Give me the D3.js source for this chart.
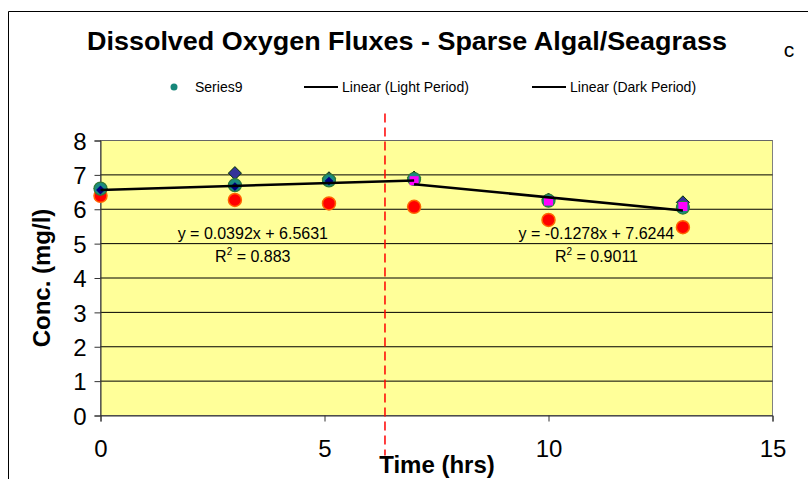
<!DOCTYPE html>
<html>
<head>
<meta charset="utf-8">
<script src="https://cdn.jsdelivr.net/npm/d3@7"></script>
<style>
  body { margin: 0; background: #fff; }
  text { font-family: "Liberation Sans", Arial, sans-serif; }
</style>
</head>
<body>
<div id="chart"></div>
<script>
// DO flux chart - sparse algal/seagrass
var times = [0, 3, 5.1, 7, 10, 13];
var bigDiamond = [6.6, 7.05, 6.9, 6.92, 6.28, 6.2];
var series9 = [6.6, 6.7, 6.84, 6.88, 6.25, 6.05];
var redDots = [6.39, 6.27, 6.17, 6.07, 5.69, 5.48];
var lightTimes = [0, 3, 5.1];
var lightPts = [6.56, 6.66, 6.82];
var darkTimes = [7, 10, 13];
var darkPts = [6.83, 6.24, 6.08];
var lightFit = {a: 0.0392, b: 6.5631, r2: "0.883", x0: 0, x1: 7};
var darkFit = {a: -0.1278, b: 7.6244, r2: "0.9011", x0: 7, x1: 13};
var xTicks = [0, 5, 10, 15];
var yTicks = [0, 1, 2, 3, 4, 5, 6, 7, 8];
var splitTime = 6.35;

var W = 808, H = 479;
var margin = {top: 140.5, right: 35.5, bottom: 63.5, left: 100.5},
    width = W - margin.left - margin.right,
    height = H - margin.top - margin.bottom;

var svg = d3.select("#chart").append("svg")
    .attr("width", W)
    .attr("height", H);

// outer chart frame
svg.append("path")
    .attr("d", "M8.5," + H + "V11.5H" + W)
    .attr("fill", "none")
    .attr("stroke", "#000");

svg.append("text")
    .attr("x", 407).attr("y", 50)
    .attr("text-anchor", "middle")
    .attr("textLength", 640).attr("lengthAdjust", "spacingAndGlyphs")
    .style("font-size", "26px").style("font-weight", "bold")
    .text("Dissolved Oxygen Fluxes - Sparse Algal/Seagrass");

svg.append("text")
    .attr("x", 789).attr("y", 57)
    .attr("text-anchor", "middle")
    .style("font-size", "21px")
    .text("c");

// legend
var leg = svg.append("g").attr("transform", "translate(0,87)");
leg.append("circle").attr("cx", 174).attr("cy", 0).attr("r", 3.5).attr("fill", "#16877a");
leg.append("text").attr("x", 195).attr("y", 5).style("font-size", "14px").text("Series9");
leg.append("line").attr("x1", 304).attr("x2", 338).attr("y1", 0).attr("y2", 0).attr("stroke", "#000").attr("stroke-width", 2);
leg.append("text").attr("x", 342).attr("y", 5).style("font-size", "14px").text("Linear (Light Period)");
leg.append("line").attr("x1", 532).attr("x2", 566).attr("y1", 0).attr("y2", 0).attr("stroke", "#000").attr("stroke-width", 2);
leg.append("text").attr("x", 570).attr("y", 5).style("font-size", "14px").text("Linear (Dark Period)");

var x = d3.scaleLinear().domain([0, 15]).range([0, width]);
var y = d3.scaleLinear().domain([0, 8]).range([height, 0]);

var g = svg.append("g")
    .attr("transform", "translate(" + margin.left + "," + margin.top + ")");

g.append("rect")
    .attr("width", width).attr("height", height)
    .attr("fill", "#ffff99")
    .attr("stroke", "#808080");

g.selectAll(".grid").data(yTicks).enter().append("line")
    .attr("x1", 0).attr("x2", width)
    .attr("y1", function(d) { return y(d); })
    .attr("y2", function(d) { return y(d); })
    .attr("stroke", function(d) { return d === 8 || d === 0 ? "#666" : "#000"; });

var yAxis = d3.axisLeft(y).tickValues(yTicks).tickSize(6).tickPadding(8);
var xAxis = d3.axisBottom(x).tickValues(xTicks).tickSize(6).tickPadding(18);

var ya = g.append("g").call(yAxis);
var xa = g.append("g").attr("transform", "translate(0," + height + ")").call(xAxis);
[ya, xa].forEach(function(a) {
  a.select(".domain").attr("stroke", "#333");
  a.selectAll(".tick line").attr("stroke", "#333");
  a.selectAll(".tick text").style("font-size", "24px").attr("fill", "#000")
      .style("font-family", "'Liberation Sans', Arial, sans-serif");
});
ya.selectAll(".tick text").attr("dy", "0.36em");

// light/dark split
g.append("line")
    .attr("x1", x(splitTime)).attr("x2", x(splitTime))
    .attr("y1", -27).attr("y2", height + 40)
    .attr("stroke", "#ff0000").attr("stroke-width", 1.5)
    .attr("stroke-dasharray", "9,5");

var sym = d3.symbol();
g.selectAll(".red").data(times).enter().append("circle")
    .attr("cx", function(d) { return x(d); })
    .attr("cy", function(d, i) { return y(redDots[i]); })
    .attr("r", 6.5)
    .attr("fill", "#ff0000").attr("stroke", "#ff6600").attr("stroke-width", 1.5);

g.selectAll(".dia").data(times).enter().append("path")
    .attr("transform", function(d, i) { return "translate(" + x(d) + "," + y(bigDiamond[i]) + ")"; })
    .attr("d", sym.type(d3.symbolDiamond2).size(110)())
    .attr("fill", "#333399").attr("stroke", "#003300").attr("stroke-width", 1);

g.selectAll(".s9").data(times).enter().append("circle")
    .attr("cx", function(d) { return x(d); })
    .attr("cy", function(d, i) { return y(series9[i]); })
    .attr("r", 6.5)
    .attr("fill", "#1a8a80").attr("stroke", "#2f7a3a").attr("stroke-width", 1.2);

g.selectAll(".sd").data(lightTimes).enter().append("path")
    .attr("transform", function(d, i) { return "translate(" + x(d) + "," + y(lightPts[i]) + ")"; })
    .attr("d", sym.type(d3.symbolDiamond2).size(50)())
    .attr("fill", "#000080");

g.selectAll(".sq").data(darkTimes).enter().append("rect")
    .attr("x", function(d) { return x(d) - 4.5; })
    .attr("y", function(d, i) { return y(darkPts[i]) - 4.5; })
    .attr("width", 9).attr("height", 9)
    .attr("fill", "#ff00ff");

// trend lines
[lightFit, darkFit].forEach(function(f) {
  g.append("line")
      .attr("x1", x(f.x0)).attr("y1", y(f.a * f.x0 + f.b))
      .attr("x2", x(f.x1)).attr("y2", y(f.a * f.x1 + f.b))
      .attr("stroke", "#000").attr("stroke-width", 2.5);
});

function fitLabel(f, cx) {
  var sign = f.b >= 0 ? " + " : " - ";
  g.append("text").attr("x", cx).attr("y", 98)
      .attr("text-anchor", "middle").style("font-size", "16px")
      .text("y = " + f.a + "x" + sign + f.b);
  var t = g.append("text").attr("x", cx).attr("y", 121.5)
      .attr("text-anchor", "middle").style("font-size", "16px");
  t.append("tspan").text("R");
  t.append("tspan").attr("dy", -7).style("font-size", "10px").text("2");
  t.append("tspan").attr("dy", 7).text(" = " + f.r2);
}
fitLabel(lightFit, x(3.4));
fitLabel(darkFit, x(11.07));

svg.append("text")
    .attr("transform", "translate(50," + (margin.top + height / 2) + ") rotate(-90)")
    .attr("text-anchor", "middle")
    .style("font-size", "24px").style("font-weight", "bold")
    .text("Conc. (mg/l)");

svg.append("text")
    .attr("x", 437).attr("y", 473)
    .attr("text-anchor", "middle")
    .style("font-size", "24px").style("font-weight", "bold")
    .text("Time (hrs)");
</script>
</body>
</html>
